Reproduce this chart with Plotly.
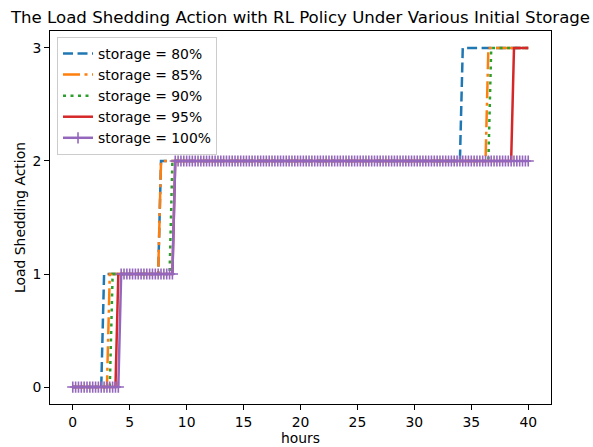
import numpy as np
import plotly.graph_objects as go

# ---- data ----
sample_step_h = 0.25          # one decision every 15 minutes
horizon_h = 40
series_names = ["storage = 80%", "storage = 85%", "storage = 90%",
                "storage = 95%", "storage = 100%"]
# first hour at which the action steps up to 1, 2, 3
switch_80 = [2.75, 7.75, 34.25]
switch_85 = [3.25, 7.75, 36.5]
switch_90 = [3.5, 8.75, 36.75]
switch_95 = [4.0, 9.0, 38.75]
switch_100 = [4.25, 9.0]
x_ticks = [0, 5, 10, 15, 20, 25, 30, 35, 40]
y_ticks = [0, 1, 2, 3]

hours = np.arange(0, horizon_h + sample_step_h / 2, sample_step_h)


def action_series(switches):
    return np.searchsorted(np.array(switches), hours, side="right")


switches = [switch_80, switch_85, switch_90, switch_95, switch_100]
colors = ["#1f77b4", "#ff7f0e", "#2ca02c", "#d62728", "#9467bd"]
dashes = ["10px,4.5px", "17px,4.5px,3px,4.5px", "3px,4.5px", "solid", "solid"]

fig = go.Figure()
for i, (name, sw) in enumerate(zip(series_names, switches)):
    is_last = i == 4
    fig.add_trace(go.Scatter(
        x=hours, y=action_series(sw), name=name,
        mode="lines+markers" if is_last else "lines",
        line=dict(color=colors[i], width=2.5, dash=dashes[i]),
        marker=dict(symbol="cross-thin", size=8,
                    line=dict(color=colors[i], width=1.6)) if is_last else None,
        legendgroup=f"g{i}",
    ))

font_family = "DejaVu Sans"
fs = 13.9
axis_common = dict(
    showline=True, linecolor="black", linewidth=1, mirror=True,
    ticks="outside", ticklen=5, tickwidth=1, tickcolor="black",
    showgrid=False, zeroline=False, automargin=False,
    tickfont=dict(family=font_family, size=fs, color="black"),
)
fig.update_layout(
    width=593, height=447,
    margin=dict(l=50, r=42, t=31, b=43),
    paper_bgcolor="white", plot_bgcolor="white",
    font=dict(family=font_family, size=fs, color="black"),
    title=dict(text="The Load Shedding Action with RL Policy Under Various Initial Storage",
               x=0.5, xref="paper", xanchor="center",
               y=1 - 17 / 447, yref="container", yanchor="middle",
               font=dict(family=font_family, size=16.6, color="black")),
    xaxis=dict(range=[-2, 42], tickvals=x_ticks,
               title=dict(text="hours", font=dict(size=fs), standoff=3),
               **axis_common),
    yaxis=dict(range=[-0.15, 3.15], tickvals=y_ticks,
               title=dict(text="Load Shedding Action", font=dict(size=fs), standoff=3),
               **axis_common),
    legend=dict(x=0.014, y=0.984, xanchor="left", yanchor="top",
                bgcolor="rgba(255,255,255,0.8)", bordercolor="#cccccc",
                borderwidth=1, tracegroupgap=0,
                font=dict(family=font_family, size=fs, color="black")),
    showlegend=True,
)

fig.write_html("out.html", config={"displayModeBar": False},
               post_script="document.body.style.margin='0';")
